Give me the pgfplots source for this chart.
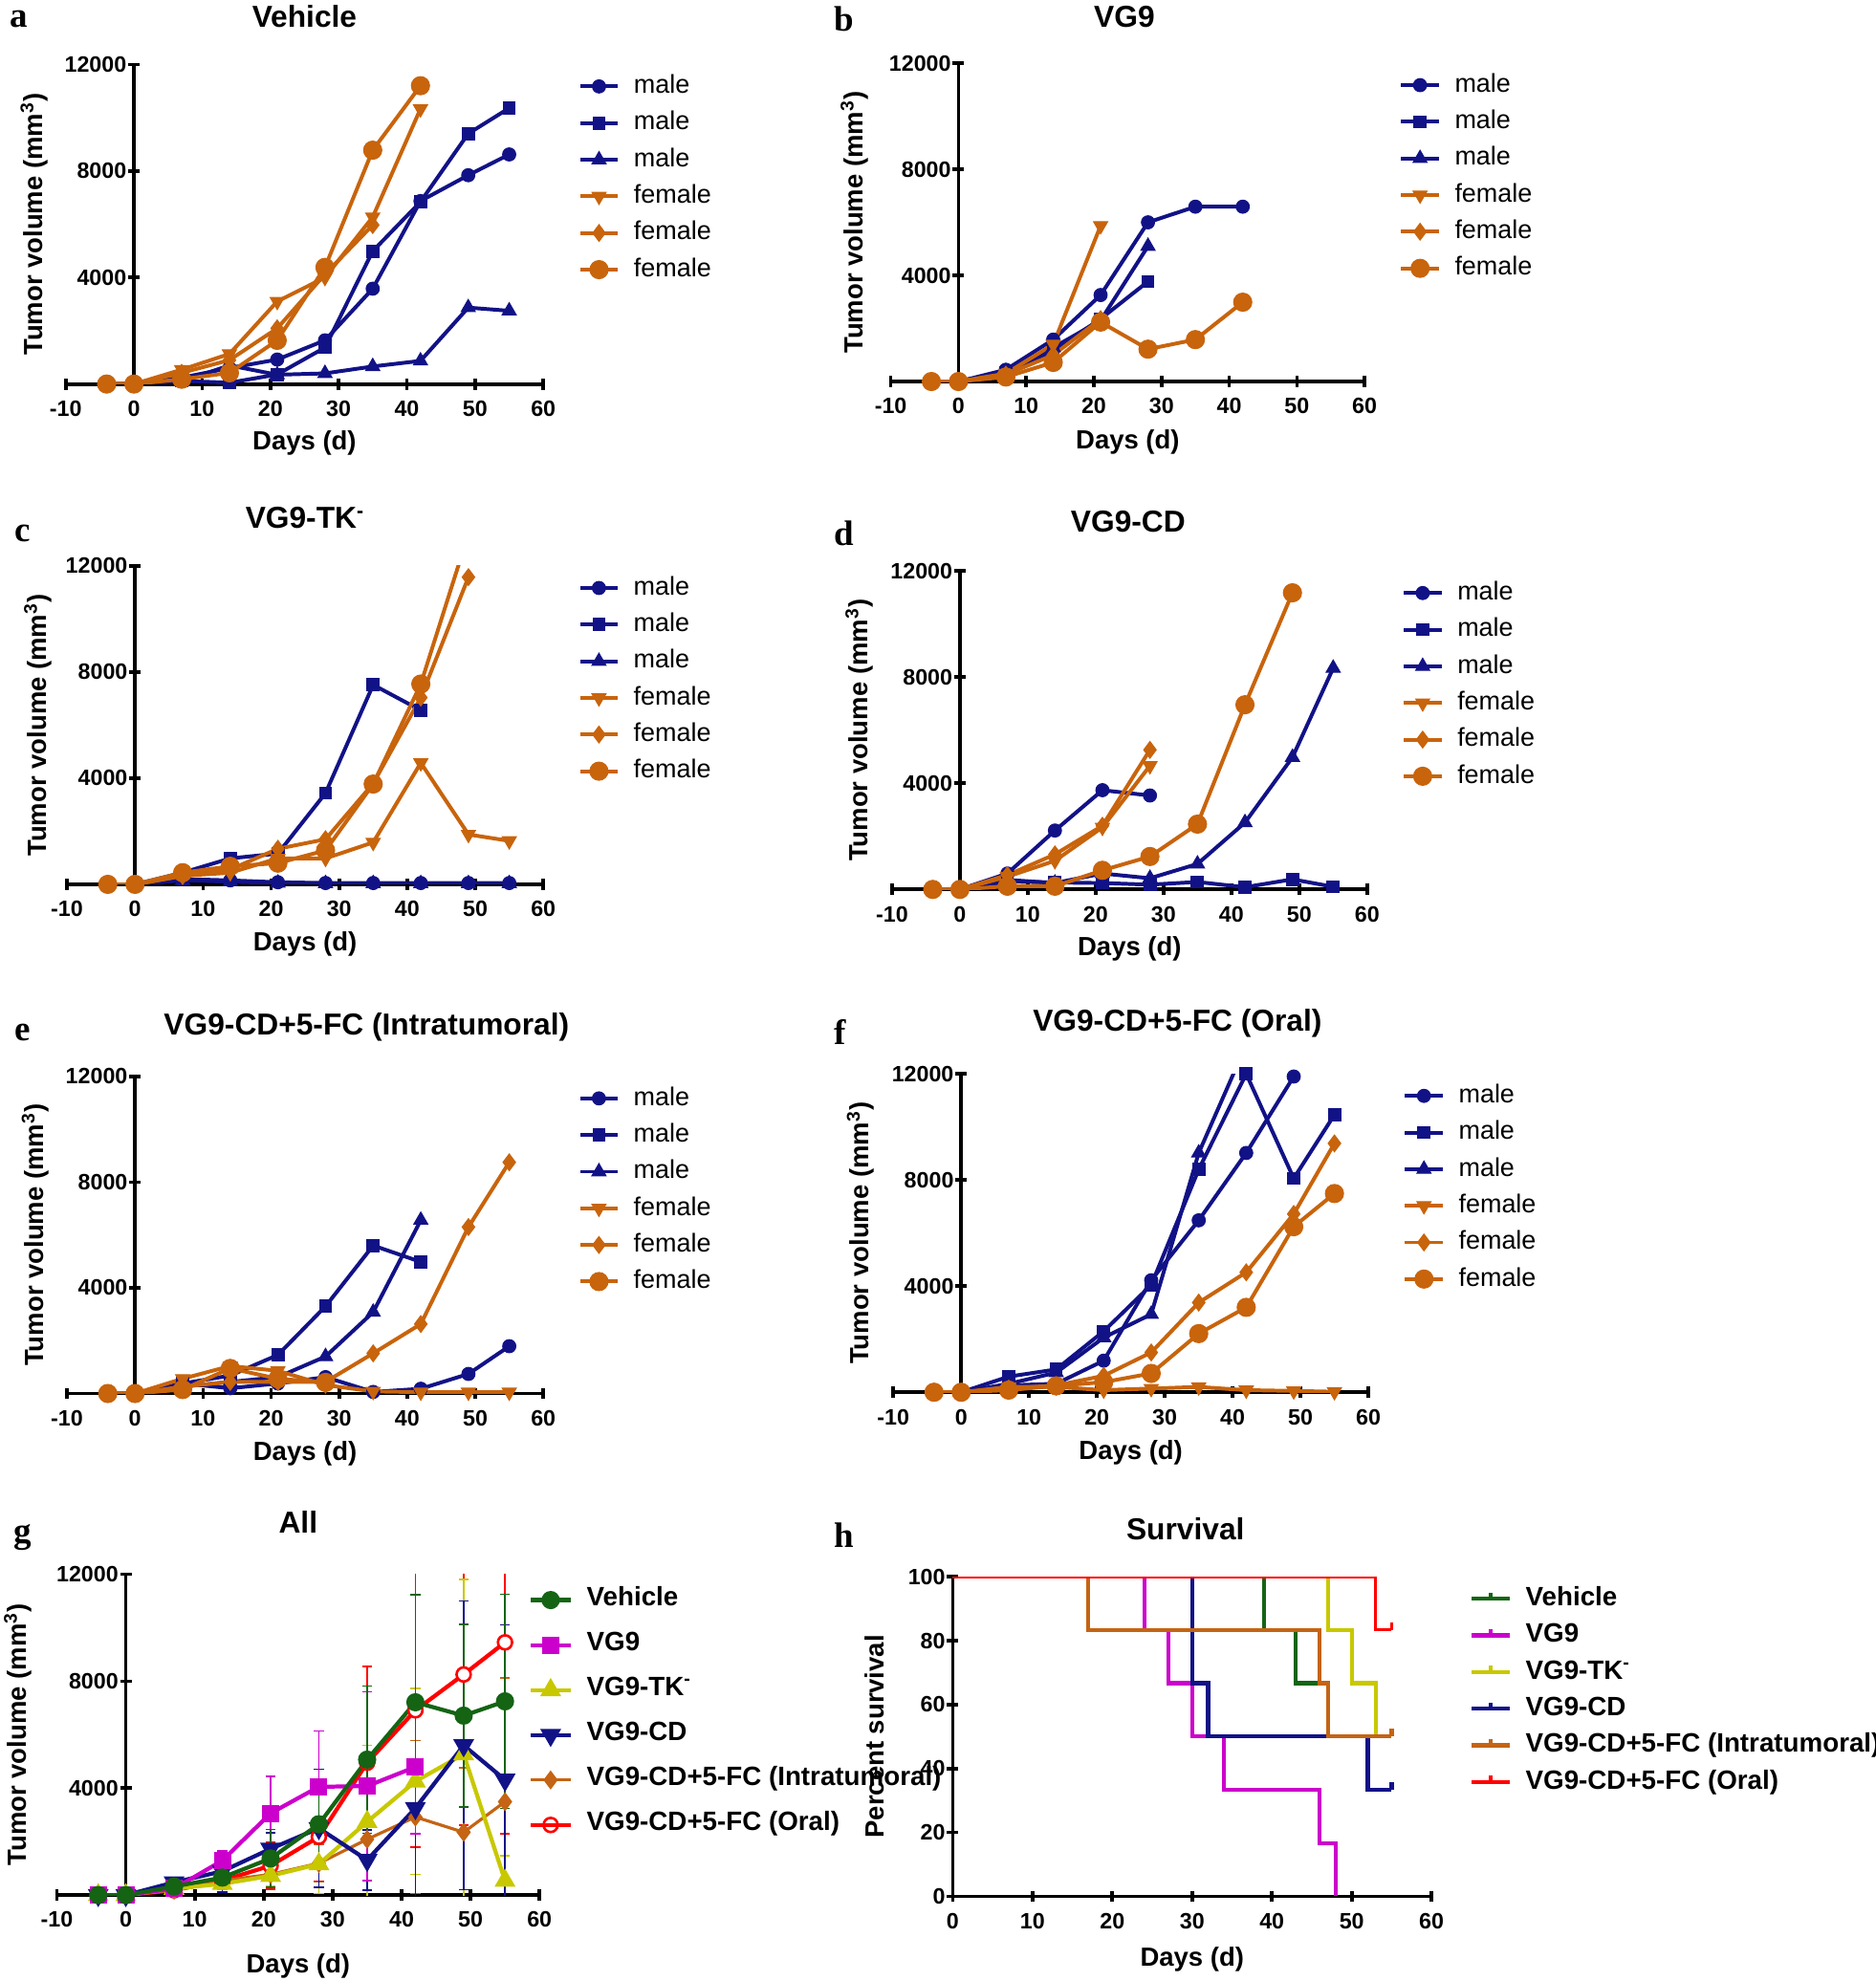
\documentclass[border=0pt]{standalone}
\usepackage{pgfplots}
\pgfplotsset{compat=1.18}
\usepackage{fontspec}
\setmainfont{Liberation Sans}
\newfontfamily\serifbf{Liberation Serif}
\definecolor{navy}{RGB}{18,18,135}
\definecolor{orng}{RGB}{200,100,12}
\definecolor{vgreen}{RGB}{20,100,20}
\definecolor{vmag}{RGB}{204,0,204}
\definecolor{vyel}{RGB}{200,200,0}
\definecolor{vred}{RGB}{255,0,0}
\definecolor{vorg}{RGB}{196,100,20}
\newcommand\ticksize{\fontsize{8.8}{10}\selectfont\bfseries}
\newcommand\labsize{\fontsize{10.4}{12}\selectfont\bfseries}
\newcommand\titsize{\fontsize{12}{14}\selectfont\bfseries}
\newcommand\legsize{\fontsize{10.2}{12}\selectfont}
\newcommand\leggsize{\fontsize{10.5}{12}\selectfont\bfseries}
\newcommand\letsize{\fontsize{14}{16}\selectfont\serifbf\bfseries}
\pgfdeclareplotmark{censor}{\pgfpathmoveto{\pgfpointorigin}\pgfpathlineto{\pgfqpoint{0pt}{\pgfplotmarksize}}\pgfusepathqstroke}
\pgfplotsset{
  common/.style={
    scale only axis, enlargelimits=false, clip=true,
    scaled x ticks=false, scaled y ticks=false,
    tick align=outside, major tick length=4.5pt,
    tick style={line width=1.4pt, black},
    xlabel={Days (d)},
  },
  after/.style={
    axis line style={line width=1.4pt, -},
    every inner x axis line/.append style={-},
    every inner y axis line/.append style={-},
    every outer x axis line/.append style={-},
    every outer y axis line/.append style={-},
    xticklabel style={font=\ticksize, inner ysep=4.2pt},
    yticklabel style={font=\ticksize, inner xsep=0.5pt},
  },
  ylab/.style={every axis y label/.style={at={(axis description cs:#1,0.5)},rotate=90,anchor=center,font=\labsize}},
  xlab/.style={every axis x label/.style={at={(axis description cs:0.5,#1)},anchor=center,font=\labsize}},
  tit/.style 2 args={every axis title/.style={at={(axis description cs:#1,#2)},anchor=center,font=\titsize}},
  tumor/.style={
    common, axis lines=middle, after,
    hide obscured x ticks=false, hide obscured y ticks=false,
    xmin=-10, xmax=60, ymin=0, ymax=12000,
    xtick={-10,0,10,20,30,40,50,60}, xticklabels={-10,0,10,20,30,40,50,60},
    ytick={4000,8000,12000}, yticklabels={4000,8000,12000},
    ylabel={Tumor volume (mm\textsuperscript{3})},
    legend style={draw=none, fill=none, at={(axis description cs:1.072,0.99)}, anchor=north west,
      font=\legsize, inner sep=0pt, row sep=0pt, column sep=5.5pt,
      nodes={inner sep=0pt, text height=10pt, text depth=4.5pt}},
    legend cell align=left,
    legend image code/.code={\draw[mark repeat=2,mark phase=2,#1] plot coordinates {(0pt,0pt) (7.5pt,0pt) (15pt,0pt)};},
  },
  m1/.style={navy, line width=1.5pt, mark=*, mark size=2.6pt, mark options={line width=0.4pt}},
  m2/.style={navy, line width=1.5pt, mark=square*, mark size=2.4pt, mark options={line width=0.4pt}},
  m3/.style={navy, line width=1.5pt, mark=triangle*, mark size=3.2pt, mark options={line width=0.4pt}},
  f1/.style={orng, line width=1.5pt, mark=triangle*, mark size=3.2pt, mark options={rotate=180, line width=0.4pt}},
  f2/.style={orng, line width=1.5pt, mark=diamond*, mark size=3.3pt, mark options={line width=0.4pt}},
  f3/.style={orng, line width=1.5pt, mark=*, mark size=3.6pt, mark options={line width=0.4pt}},
  ext/.style={line width=1.5pt, mark=none, forget plot},
  eb/.style={error bars/.cd, y dir=both, y explicit,
    error bar style={line width=0.6pt},
    error mark options={rotate=90, mark size=2pt, line width=0.6pt}},
}
\newcommand\sexlegend{\legend{male,male,male,female,female,female}}
\begin{document}
\begin{tikzpicture}
\useasboundingbox (0,0) rectangle (742pt,784pt);
% ---------------- a
\begin{axis}[tumor, at={(26pt,632pt)}, anchor=south west, width=189pt, height=126.5pt,
  title={Vehicle}, tit={0.5}{1.15}, ylab=-0.066, xlab=-0.186]
\addplot[m1] coordinates {(-4,0)(0,0)(7,240)(14,600)(21,920)(28,1640)(35,3580)(42,6870)(49,7840)(55,8620)};
\addplot[m2] coordinates {(-4,0)(0,0)(7,120)(14,50)(21,360)(28,1370)(35,4990)(42,6840)(49,9400)(55,10360)};
\addplot[m3] coordinates {(-4,0)(0,0)(7,100)(14,700)(21,350)(28,400)(35,660)(42,870)(49,2870)(55,2750)};
\addplot[f1] coordinates {(-4,0)(0,0)(7,540)(14,1130)(21,3100)(28,4000)(35,6270)(42,10330)};
\addplot[f2] coordinates {(-4,0)(0,0)(7,420)(14,900)(21,2090)(28,4120)(35,5970)};
\addplot[f3] coordinates {(-4,0)(0,0)(7,180)(14,420)(21,1640)(28,4380)(35,8780)(42,11200)};
\sexlegend
\end{axis}
% ---------------- b
\begin{axis}[tumor, at={(352.5pt,633pt)}, anchor=south west, width=187.5pt, height=126pt,
  title={VG9}, tit={0.493}{1.147}, ylab=-0.077, xlab=-0.19]
\addplot[m1] coordinates {(-4,0)(0,0)(7,444)(14,1580)(21,3260)(28,6000)(35,6590)(42,6590)};
\addplot[m2] coordinates {(-4,0)(0,0)(7,320)(14,1160)(21,2360)(28,3770)};
\addplot[m3] coordinates {(-4,0)(0,0)(7,320)(14,1280)(21,2300)(28,5100)};
\addplot[f1] coordinates {(-4,0)(0,0)(7,300)(14,1400)(21,5870)};
\addplot[f2] coordinates {(-4,0)(0,0)(7,260)(14,1000)(21,2350)};
\addplot[f3] coordinates {(-4,0)(0,0)(7,170)(14,720)(21,2240)(28,1220)(35,1580)(42,2990)};
\sexlegend
\end{axis}
% ---------------- c
\begin{axis}[tumor, at={(26.5pt,434pt)}, anchor=south west, width=188.5pt, height=126pt,
  title={VG9-TK\textsuperscript{-}}, tit={0.5}{1.151}, ylab=-0.061, xlab=-0.187]
\addplot[m1] coordinates {(-4,0)(0,0)(7,200)(14,150)(21,80)(28,50)(35,50)(42,50)(49,50)(55,50)};
\addplot[m2] coordinates {(-4,0)(0,0)(7,440)(14,980)(21,1160)(28,3440)(35,7520)(42,6560)};
\addplot[m3] coordinates {(-4,0)(0,0)(7,150)(14,100)(21,50)(28,30)(35,30)(42,30)(49,30)(55,30)};
\addplot[f1] coordinates {(-4,0)(0,0)(7,320)(14,440)(21,980)(28,980)(35,1580)(42,4580)(49,1880)(55,1640)};
\addplot[f2] coordinates {(-4,0)(0,0)(7,320)(14,560)(21,1340)(28,1700)(35,3800)(42,7040)(49,11580)};
\addplot[orng, ext] coordinates {(42,7550)(49,13210)};
\addplot[f3] coordinates {(-4,0)(0,0)(7,440)(14,680)(21,800)(28,1280)(35,3780)(42,7550)};
\sexlegend
\end{axis}
% ---------------- d
\begin{axis}[tumor, at={(353pt,432pt)}, anchor=south west, width=188pt, height=126pt,
  title={VG9-CD}, tit={0.497}{1.155}, ylab=-0.069, xlab=-0.187]
\addplot[m1] coordinates {(-4,0)(0,0)(7,600)(14,2220)(21,3740)(28,3540)};
\addplot[m2] coordinates {(-4,0)(0,0)(7,300)(14,260)(21,240)(28,180)(35,280)(42,84)(49,380)(55,100)};
\addplot[m3] coordinates {(-4,0)(0,0)(7,360)(14,240)(21,600)(28,420)(35,960)(42,2520)(49,4980)(55,8340)};
\addplot[f1] coordinates {(-4,0)(0,0)(7,480)(14,1080)(21,2340)(28,4660)};
\addplot[f2] coordinates {(-4,0)(0,0)(7,540)(14,1320)(21,2400)(28,5260)};
\addplot[f3] coordinates {(-4,0)(0,0)(7,120)(14,120)(21,720)(28,1240)(35,2460)(42,6960)(49,11180)};
\sexlegend
\end{axis}
% ---------------- e
\begin{axis}[tumor, at={(26.5pt,232.5pt)}, anchor=south west, width=188.5pt, height=125.5pt,
  title={VG9-CD+5-FC (Intratumoral)}, tit={0.629}{1.155}, ylab=-0.066, xlab=-0.191]
\addplot[m1] coordinates {(-4,0)(0,0)(7,380)(14,200)(21,380)(28,620)(35,60)(42,180)(49,740)(55,1790)};
\addplot[m2] coordinates {(-4,0)(0,0)(7,380)(14,680)(21,1460)(28,3300)(35,5600)(42,4980)};
\addplot[m3] coordinates {(-4,0)(0,0)(7,260)(14,440)(21,620)(28,1400)(35,3080)(42,6560)};
\addplot[f1] coordinates {(-4,0)(0,0)(7,560)(14,1040)(21,860)(28,320)(35,80)(42,50)(49,50)(55,50)};
\addplot[f2] coordinates {(-4,0)(0,0)(7,260)(14,440)(21,440)(28,440)(35,1520)(42,2630)(49,6300)(55,8750)};
\addplot[f3] coordinates {(-4,0)(0,0)(7,150)(14,950)(21,560)(28,420)};
\sexlegend
\end{axis}
% ---------------- f
\begin{axis}[tumor, at={(353.5pt,233pt)}, anchor=south west, width=188pt, height=126pt,
  title={VG9-CD+5-FC (Oral)}, tit={0.598}{1.159}, ylab=-0.069, xlab=-0.19]
\addplot[m1] coordinates {(-4,0)(0,0)(7,260)(14,320)(21,1190)(28,4220)(35,6480)(42,9020)(49,11900)};
\addplot[m2] coordinates {(-4,0)(0,0)(7,590)(14,860)(21,2300)(28,4040)(35,8400)(42,12000)(49,8060)(55,10460)};
\addplot[navy, ext] coordinates {(35,9020)(42,13100)};
\addplot[m3] coordinates {(-4,0)(0,0)(7,320)(14,740)(21,2060)(28,2940)(35,9020)};
\addplot[f1] coordinates {(-4,0)(0,0)(7,200)(14,200)(21,80)(28,140)(35,200)(42,80)(49,50)(55,20)};
\addplot[f2] coordinates {(-4,0)(0,0)(7,140)(14,260)(21,620)(28,1500)(35,3380)(42,4520)(49,6720)(55,9380)};
\addplot[f3] coordinates {(-4,0)(0,0)(7,80)(14,240)(21,380)(28,710)(35,2210)(42,3200)(49,6240)(55,7490)};
\sexlegend
\end{axis}
% ---------------- g
\begin{axis}[tumor, at={(22.5pt,34pt)}, anchor=south west, width=191pt, height=127pt,
  title={All}, tit={0.5}{1.161}, ylab=-0.081, xlab=-0.22,
  legend style={at={(axis description cs:0.976,0.991)}, anchor=north west, font=\leggsize,
    nodes={inner sep=0pt, text height=11pt, text depth=6.8pt}},
  legend image code/.code={\draw[mark repeat=2,mark phase=2,#1] plot coordinates {(0pt,0pt) (8pt,0pt) (16pt,0pt)};}]
\addlegendimage{vgreen, line width=1.6pt, mark=*, mark size=2.8pt}
\addlegendentry{Vehicle}
\addlegendimage{vmag, line width=1.6pt, mark=square*, mark size=2.6pt}
\addlegendentry{VG9}
\addlegendimage{vyel, line width=1.6pt, mark=triangle*, mark size=3.2pt}
\addlegendentry{VG9-TK\textsuperscript{-}}
\addlegendimage{navy, line width=1.6pt, mark=triangle*, mark size=3.2pt, mark options={rotate=180}}
\addlegendentry{VG9-CD}
\addlegendimage{vorg, line width=1.2pt, mark=diamond*, mark size=2.8pt}
\addlegendentry{VG9-CD+5-FC (Intratumoral)}
\addlegendimage{vred, line width=1.6pt, mark=o, mark size=2.8pt, mark options={fill=white, line width=1pt}}
\addlegendentry{VG9-CD+5-FC (Oral)}
\addplot[forget plot, vred, line width=1.6pt, mark=*, mark size=2.8pt, mark options={fill=white, line width=1pt}, eb] coordinates {(-4,0)+-(0,0) (0,0)+-(0,0) (7,180)+-(0,60) (14,540)+-(0,250) (21,1100)+-(0,870) (28,2180)+-(0,1650) (35,4950)+-(0,3590) (42,6910)+-(0,5120) (49,8250)+-(0,5630) (55,9450)+-(0,7160)};
\addplot[forget plot, vorg, line width=1.2pt, mark=diamond*, mark size=2.8pt, eb] coordinates {(-4,0)+-(0,0) (0,0)+-(0,0) (7,180)+-(0,80) (14,540)+-(0,200) (21,775)+-(0,500) (28,1190)+-(0,700) (35,2085)+-(0,2300) (42,2920)+-(0,2860) (49,2350)+-(0,2400) (55,3490)+-(0,4640)};
\addplot[forget plot, vyel, line width=1.6pt, mark=triangle*, mark size=3.2pt, eb] coordinates {(-4,0)+-(0,0) (0,0)+-(0,0) (7,240)+-(0,50) (14,420)+-(0,200) (21,720)+-(0,400) (28,1160)+-(0,1100) (35,2740)+-(0,2860) (42,4250)+-(0,3470) (49,5270)+-(0,6530) (55,540)+-(0,930)};
\addplot[forget plot, navy, line width=1.6pt, mark=triangle*, mark size=3.2pt, mark options={rotate=180}, eb] coordinates {(-4,0)+-(0,0) (0,0)+-(0,0) (7,475)+-(0,100) (14,890)+-(0,780) (21,1730)+-(0,600) (28,2500)+-(0,2200) (35,1310)+-(0,1130) (42,3250)+-(0,3450) (49,5600)+-(0,5400) (55,4310)+-(0,5800)};
\addplot[forget plot, vmag, line width=1.6pt, mark=square*, mark size=2.6pt, eb] coordinates {(-4,0)+-(0,0) (0,0)+-(0,0) (7,240)+-(0,60) (14,1290)+-(0,350) (21,3060)+-(0,1380) (28,4050)+-(0,2090) (35,4075)+-(0,3530) (42,4790)+-(0,2500)};
\addplot[forget plot, vgreen, line width=1.6pt, mark=*, mark size=2.8pt, eb] coordinates {(-4,0)+-(0,0) (0,0)+-(0,0) (7,320)+-(0,60) (14,655)+-(0,300) (21,1370)+-(0,1080) (28,2650)+-(0,1650) (35,5065)+-(0,2750) (42,7210)+-(0,4030) (49,6710)+-(0,3420) (55,7245)+-(0,4000)};
\end{axis}
% ---------------- h
\begin{axis}[common, axis lines=left, after, at={(377pt,33.5pt)}, anchor=south west, width=189.5pt, height=126.5pt,
  xmin=0, xmax=60, ymin=0, ymax=100,
  xtick={0,10,20,30,40,50,60}, xticklabels={0,10,20,30,40,50,60},
  ytick={0,20,40,60,80,100}, yticklabels={0,20,40,60,80,100},
  ylabel={Percent survival},
  title={Survival}, tit={0.486}{1.15}, ylab=-0.164, xlab=-0.198,
  legend style={draw=none, fill=none, at={(axis description cs:1.079,0.99)}, anchor=north west,
    font=\leggsize, inner sep=0pt, row sep=0pt, column sep=5.5pt,
    nodes={inner sep=0pt, text height=10pt, text depth=4.5pt}},
  legend cell align=left,
  legend image code/.code={\draw[#1] (0pt,0pt)--(15pt,0pt); \draw[#1] (7.5pt,0pt)--(7.5pt,2.5pt);}]
\addlegendimage{vgreen, line width=1.6pt}
\addlegendentry{Vehicle}
\addlegendimage{vmag, line width=1.6pt}
\addlegendentry{VG9}
\addlegendimage{vyel, line width=1.6pt}
\addlegendentry{VG9-TK\textsuperscript{-}}
\addlegendimage{navy, line width=1.6pt}
\addlegendentry{VG9-CD}
\addlegendimage{vorg, line width=1.6pt}
\addlegendentry{VG9-CD+5-FC (Intratumoral)}
\addlegendimage{vred, line width=1.6pt}
\addlegendentry{VG9-CD+5-FC (Oral)}
\addplot[forget plot, const plot, vmag, line width=1.6pt] coordinates {(0,100)(24,83.33)(27,66.67)(30,50)(34,33.33)(46,16.67)(48,0)};
\addplot[forget plot, const plot, vgreen, line width=1.6pt, mark=censor, mark size=3pt, mark indices={5}] coordinates {(0,100)(39,83.33)(43,66.67)(47,50)(55,50)};
\addplot[forget plot, const plot, vyel, line width=1.6pt, mark=censor, mark size=3pt, mark indices={5}] coordinates {(0,100)(47,83.33)(50,66.67)(53,50)(55,50)};
\addplot[forget plot, const plot, navy, line width=1.6pt, mark=censor, mark size=3pt, mark indices={5}] coordinates {(0,100)(30,66.67)(32,50)(52,33.33)(55,33.33)};
\addplot[forget plot, const plot, vorg, line width=1.6pt, mark=censor, mark size=3pt, mark indices={5}] coordinates {(0,100)(17,83.33)(46,66.67)(47,50)(55,50)};
\addplot[forget plot, const plot, vred, line width=1.1pt, mark=censor, mark size=3pt, mark indices={3}] coordinates {(0,100)(53,83.33)(55,83.33)};
\end{axis}
% panel letters
\node[font=\letsize] at (7.5pt,776.5pt) {a};
\node[font=\letsize] at (334pt,776.5pt) {b};
\node[font=\letsize] at (9pt,573pt) {c};
\node[font=\letsize] at (334pt,573pt) {d};
\node[font=\letsize] at (9pt,375.5pt) {e};
\node[font=\letsize] at (332.5pt,375.5pt) {f};
\node[font=\letsize] at (9pt,175.5pt) {g};
\node[font=\letsize] at (334pt,176.5pt) {h};
\end{tikzpicture}
\end{document}
